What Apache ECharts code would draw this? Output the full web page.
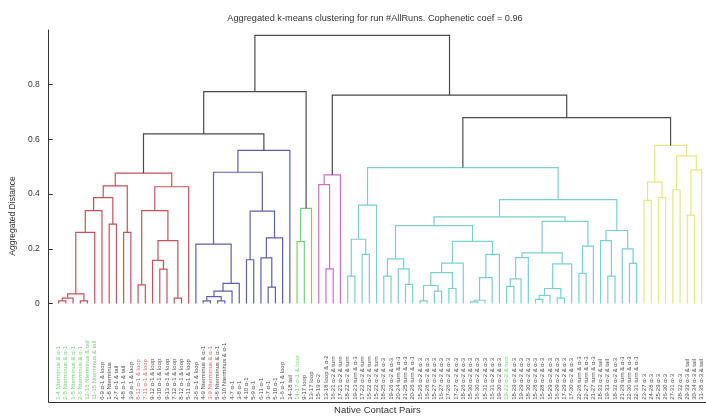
<!DOCTYPE html>
<html>
<head>
<meta charset="utf-8">
<script src="https://cdn.jsdelivr.net/npm/echarts@6/dist/echarts.min.js"></script>
<style>
  html, body { margin: 0; padding: 0; background: #fff; }
  #chart { width: 706px; height: 420px; }
</style>
</head>
<body>
<div id="chart"></div>
<script>
// leaf labels of each cluster, in dendrogram order
const redLabels = [
  '1-4 Nterminus & α-1', '2-5 Nterminus & α-1', '1-5 Nterminus & α-1', '2-6 Nterminus & α-1',
  '12-16 Nterminus & tail', '11-15 Nterminus & tail', '6-9 α-1 & loop', '1-8 Nterminus',
  '2-7 α-1 & tail', '4-8 α-1 & tail', '3-9 α-1 & loop', '8-11 α-1 & loop', '7-11 α-1 & loop',
  '9-12 α-1 & loop', '6-10 α-1 & loop', '9-13 α-1 & loop', '7-12 α-1 & loop', '8-12 α-1 & loop',
  '5-11 α-1 & loop'
]
const blueLabels = [
  '2-6 α-1 & loop', '4-9 Nterminus & α-1', '3-9 Nterminus & α-1', '5-8 Nterminus & α-1',
  '6-10 Nterminus & α-1', '4-7 α-1', '3-8 α-1', '4-10 α-1', '5-9 α-1', '6-11 α-1', '3-7 α-1',
  '5-10 α-1', '1-6 α-1 & loop', '14-18 tail'
]
const greenLabels = ['14-17 α-1 & loop', '9-17 loop', '13-17 loop']
const magentaLabels = ['15-19 α-2', '13-18 loop & α-2', '16-21 α-2 & turn', '17-21 α-2 & turn']
const cyanLabels = [
  '18-22 α-2 & turn', '19-23 turn & α-3', '17-22 α-2 & turn', '16-22 α-2 & turn', '15-22 α-2 & turn',
  '18-25 α-2 & α-3', '19-26 α-2 & α-3', '20-24 turn & α-3', '21-25 turn & α-3', '20-26 turn & α-3',
  '15-26 α-2 & α-3', '16-26 α-2 & α-3', '15-27 α-2 & α-3', '16-27 α-2 & α-3', '17-26 α-2 & α-3',
  '17-27 α-2 & α-3', '18-26 α-2 & α-3', '15-30 α-2 & α-3', '16-30 α-2 & α-3', '15-31 α-2 & α-3',
  '16-31 α-2 & α-3', '19-30 α-2 & α-3', '19-22 α-2 & turn', '18-29 α-2 & α-3', '19-29 α-2 & α-3',
  '18-30 α-2 & α-3', '15-28 α-2 & α-3', '16-28 α-2 & α-3', '15-29 α-2 & α-3', '16-29 α-2 & α-3',
  '17-29 α-2 & α-3', '17-30 α-2 & α-3', '22-26 turn & α-3', '22-27 turn & α-3', '21-27 turn & α-3',
  '18-33 α-2 & tail', '19-33 α-2 & tail', '18-32 α-2 & α-3', '21-29 turn & α-3', '22-30 turn & α-3',
  '22-31 turn & α-3'
]
const yellowLabels = [
  '23-27 α-3', '24-28 α-3', '25-29 α-3', '26-30 α-3', '27-31 α-3', '28-32 α-3',
  '29-33 α-3 & tail', '30-34 α-3 & tail', '31-35 α-3 & tail'
]

// labels drawn in colour instead of black
const greenTextLabels = [
  '1-4 Nterminus & α-1', '2-5 Nterminus & α-1', '1-5 Nterminus & α-1', '2-6 Nterminus & α-1',
  '12-16 Nterminus & tail', '11-15 Nterminus & tail', '14-17 α-1 & loop', '19-22 α-2 & turn'
]
const redTextLabels = ['8-11 α-1 & loop', '7-11 α-1 & loop', '3-9 Nterminus & α-1']

// merge trees: [distance, left, right], a number is a leaf index
const redTree = [0.477,
  [0.43, [0.387, [0.34, [0.26, [0.035, [0.02, [0.01, 0, 1], 2], [0.01, 3, 4]], 5], 6], [0.29, 7, 8]], [0.26, 9, 10]],
  [0.427, [0.34, [0.068, 11, 12], [0.23, [0.158, 13, [0.126, 14, 15]], [0.02, 16, 17]]], 18]]
const blueTree = [0.56,
  [0.48,
    [0.217, 0, [0.074, [0.045, [0.025, [0.01, 1, 2], [0.01, 3, 4]], 5], 6]],
    [0.338, [0.16, 7, 8], [0.24, [0.167, 9, [0.06, 10, 11]], 12]]],
  13]
const greenTree = [0.348, [0.226, 0, 1], 2]
const magentaTree = [0.47, [0.435, 0, [0.127, 1, 2]], 3]
const cyanTree = [0.497,
  [0.36, [0.235, [0.1, 0, 1], [0.18, 2, 3]], 4],
  [0.38,
    [0.317,
      [0.285,
        [0.163, [0.1, 5, 6], [0.127, 7, [0.07, 8, 9]]],
        [0.227,
          [0.148, [0.113, [0.066, [0.01, 10, 11], [0.045, 12, 13]], [0.055, 14, 15]], 16],
          [0.18, [0.095, [0.012, [0.006, 17, 18], 19], 20], 21]]],
      [0.3,
        [0.185,
          [0.168, [0.09, [0.063, 22, 23], 24], 25],
          [0.145, [0.055, [0.03, [0.015, 26, 27], 28], [0.02, 29, 30]], 31]],
        [0.21, [0.11, 32, 33], 34]]],
    [0.267, [0.23, 35, [0.1, 36, 37]], [0.2, 38, [0.147, 39, 40]]]]]
const yellowTree = [0.578,
  [0.445, [0.377, 0, 1], [0.387, 2, 3]],
  [0.54, [0.416, 4, 5], [0.488, [0.323, 6, 7], 8]]]
const rootTree = [0.98, [0.775, [0.62, 'red', 'blue'], 'green'], [0.762, 'magenta', [0.68, 'cyan', 'yellow']]]

const yTicks = [0, 0.2, 0.4, 0.6, 0.8]

const clusters = {
  red: { tree: redTree, labels: redLabels, color: '#c9505e' },
  blue: { tree: blueTree, labels: blueLabels, color: '#5e5eae' },
  green: { tree: greenTree, labels: greenLabels, color: '#7ccb7c' },
  magenta: { tree: magentaTree, labels: magentaLabels, color: '#cc6cc6' },
  cyan: { tree: cyanTree, labels: cyanLabels, color: '#7ccfcf' },
  yellow: { tree: yellowTree, labels: yellowLabels, color: '#e6e684' },
}
const topColor = '#4a4a4a'

// lay out the dendrogram like matlab: leaves at 1..N, node at mean of children
const links = []
const leaves = []
let nextX = 1

function place(node, color, labels) {
  if (!Array.isArray(node)) {
    const x = nextX++
    leaves.push({ x, name: labels[node] })
    return { x, y: 0 }
  }
  const [h, a, b] = node
  const l = place(a, color, labels)
  const r = place(b, color, labels)
  links.push({ coords: [[l.x, l.y], [l.x, h], [r.x, h], [r.x, r.y]], color })
  return { x: (l.x + r.x) / 2, y: h }
}

function placeTop(node) {
  if (typeof node === 'string') {
    const c = clusters[node]
    return place(c.tree, c.color, c.labels)
  }
  const [h, a, b] = node
  const l = placeTop(a)
  const r = placeTop(b)
  links.push({ coords: [[l.x, l.y], [l.x, h], [r.x, h], [r.x, r.y]], color: topColor })
  return { x: (l.x + r.x) / 2, y: h }
}

placeTop(rootTree)
const nLeaves = leaves.length

const labelColor = (name) => {
  if (greenTextLabels.includes(name)) return '#55c455'
  if (redTextLabels.includes(name)) return '#d23c4c'
  return '#141414'
}

const font = 'Liberation Sans, Arial, Helvetica, sans-serif'
const chart = echarts.init(document.getElementById('chart'))

chart.setOption({
  animation: false,
  backgroundColor: '#fff',
  title: {
    text: 'Aggregated k-means clustering for run #AllRuns. Cophenetic coef = 0.96',
    left: 375,
    top: 14,
    padding: 0,
    textAlign: 'center',
    textStyle: { fontSize: 9.2, fontWeight: 'normal', color: '#333', fontFamily: font },
  },
  grid: { left: 42, right: 0, top: 30, bottom: 11 },
  xAxis: {
    type: 'value',
    min: -0.37,
    max: nLeaves + 0.59,
    name: 'Native Contact Pairs',
    nameLocation: 'middle',
    nameGap: 3,
    nameTextStyle: { fontSize: 9.5, color: '#333', fontFamily: font },
    axisLine: { onZero: false, lineStyle: { color: '#333', width: 1 } },
    axisTick: { show: false },
    axisLabel: { show: false },
    splitLine: { show: false },
  },
  yAxis: {
    type: 'value',
    min: -0.36,
    max: 1,
    name: 'Aggregated Distance',
    nameLocation: 'middle',
    nameGap: 17,
    nameTextStyle: { fontSize: 8.5, color: '#333', fontFamily: font },
    axisLine: { show: true, onZero: false, lineStyle: { color: '#333', width: 1 } },
    axisTick: { show: true, inside: true, length: 4, customValues: yTicks, lineStyle: { color: '#333' } },
    axisLabel: {
      customValues: yTicks,
      formatter: (v) => (v === 0 ? '0' : Number(v).toFixed(1)),
      fontSize: 8.5,
      color: '#333',
      margin: 9,
      fontFamily: font,
    },
    splitLine: { show: false },
  },
  series: [
    {
      type: 'lines',
      coordinateSystem: 'cartesian2d',
      polyline: true,
      silent: true,
      lineStyle: { width: 1.2, opacity: 1 },
      data: links.map((l) => ({ coords: l.coords, lineStyle: { color: l.color } })),
    },
    {
      type: 'scatter',
      symbolSize: 0,
      silent: true,
      data: leaves.map((lf) => ({
        name: lf.name,
        value: [lf.x, -0.352],
        label: { color: labelColor(lf.name) },
      })),
      label: {
        show: true,
        formatter: '{b}',
        position: 'inside',
        rotate: 90,
        align: 'left',
        verticalAlign: 'middle',
        fontSize: 6,
        fontFamily: font,
      },
    },
  ],
})
</script>
</body>
</html>
